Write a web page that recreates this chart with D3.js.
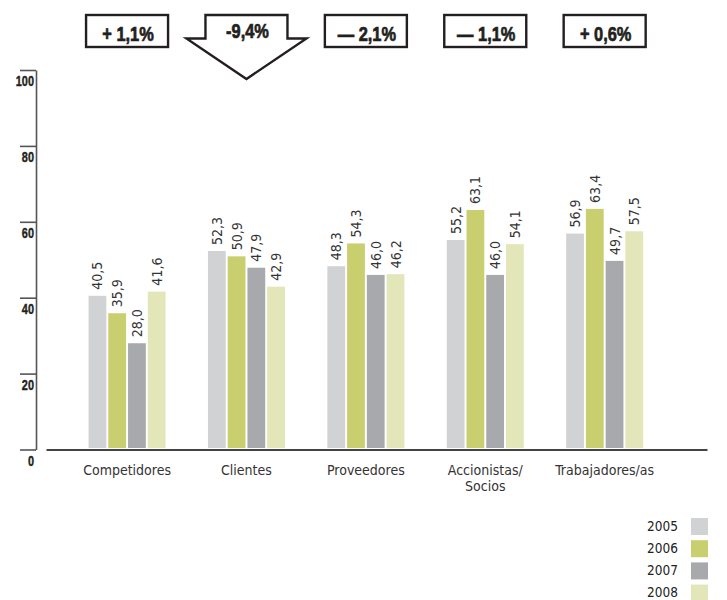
<!DOCTYPE html>
<html>
<head>
<meta charset="utf-8">
<script src="https://cdn.jsdelivr.net/npm/d3@7"></script>
<style>
  html, body { margin: 0; padding: 0; background: #fff; }
  svg { display: block; }
  .cond { font-family: 'DejaVu Sans Condensed', 'DejaVu Sans', sans-serif; font-stretch: condensed; }
  .heavy { font-family: 'Liberation Sans', Arial, sans-serif; font-weight: bold; }
</style>
</head>
<body>
<svg id="chart" width="727" height="600"></svg>
<script>
// Stakeholder ratings by year
const categories = ["Competidores", "Clientes", "Proveedores", "Accionistas/ Socios", "Trabajadores/as"];
const years = ["2005", "2006", "2007", "2008"];
const values2005 = [40.5, 52.3, 48.3, 55.2, 56.9];
const values2006 = [35.9, 50.9, 54.3, 63.1, 63.4];
const values2007 = [28.0, 47.9, 46.0, 46.0, 49.7];
const values2008 = [41.6, 42.9, 46.2, 54.1, 57.5];
const changeLabels = ["+ 1,1%", "-9,4%", "— 2,1%", "— 1,1%", "+ 0,6%"];
const changeShapes = ["box", "arrow", "box", "box", "box"];
const yTicks = [0, 20, 40, 60, 80, 100];
const yearColors = ["#d1d2d4", "#c9ce6f", "#a7a9ac", "#e2e6b8"];

const series = [values2005, values2006, values2007, values2008];
const rows = categories.map((c, i) => ({
  category: c,
  values: years.map((yr, j) => ({ year: yr, value: series[j][i] }))
}));

const fmt = d3.formatLocale({ decimal: ",", thousands: ".", grouping: [3], currency: ["", "€"] }).format(".1f");

const svg = d3.select("#chart");

const x0 = d3.scaleBand()
  .domain(categories)
  .range([46, 707])
  .paddingInner(0.355)
  .paddingOuter(0.4455)
  .align(0.4);

const x1 = d3.scaleBand()
  .domain(years)
  .range([0, x0.bandwidth()])
  .paddingInner(0.1)
  .paddingOuter(0);

const y = d3.scaleLinear().domain([0, 100]).range([449.5, 70]);

const color = d3.scaleOrdinal().domain(years).range(yearColors);

// Y axis: ticks sit left of the rule, labels hang just below each tick
const yAxis = svg.append("g")
  .attr("transform", "translate(36,0)")
  .call(d3.axisLeft(y).tickValues(yTicks).tickSize(16).tickSizeOuter(0).tickFormat(d3.format("d")));
yAxis.select(".domain").attr("stroke", "#555").attr("stroke-width", 1.6);
yAxis.selectAll(".tick line").attr("stroke", "#555").attr("stroke-width", 1.6);
yAxis.selectAll(".tick text")
  .attr("class", "heavy")
  .attr("x", 0)
  .attr("dy", null)
  .attr("transform", "translate(-2,15.5) scale(0.78,1)")
  .attr("fill", "#231f20")
  .attr("stroke", "#231f20")
  .attr("stroke-width", 0.4)
  .style("font-size", "14px")
  .attr("text-anchor", "end");

// X axis baseline with category names
const xAxis = svg.append("g")
  .attr("transform", `translate(0,${y(0)})`)
  .call(d3.axisBottom(x0).tickSize(0).tickSizeOuter(0).tickFormat(""));
xAxis.select(".domain").attr("stroke", "#444").attr("stroke-width", 2.2);

xAxis.selectAll(".tick").each(function (d) {
  const t = d3.select(this).append("text")
    .attr("class", "cond")
    .attr("text-anchor", "middle")
    .attr("fill", "#333")
    .style("font-size", "14px");
  d.split("/ ").forEach((line, i, arr) => {
    t.append("tspan")
      .attr("x", 0)
      .attr("y", 25 + i * 16)
      .text(i < arr.length - 1 ? line + "/" : line);
  });
});

// Bars
const groups = svg.append("g").selectAll("g.group")
  .data(rows)
  .join("g")
  .attr("class", "group")
  .attr("transform", d => `translate(${x0(d.category)},0)`);

groups.selectAll("rect")
  .data(d => d.values)
  .join("rect")
  .attr("x", d => x1(d.year))
  .attr("y", d => y(d.value))
  .attr("width", x1.bandwidth())
  .attr("height", d => y(0) - 1.5 - y(d.value))
  .attr("fill", d => color(d.year));

// Value labels, rotated above each bar
groups.selectAll("text.val")
  .data(d => d.values)
  .join("text")
  .attr("class", "val cond")
  .attr("transform", d => `translate(${x1(d.year) + x1.bandwidth() / 2},${y(d.value) - 6}) rotate(-90)`)
  .attr("dy", "0.36em")
  .attr("text-anchor", "start")
  .attr("fill", "#333")
  .style("font-size", "14px")
  .text(d => fmt(d.value));

// Change badges above each group
const badges = svg.append("g").selectAll("g.badge")
  .data(categories.map((c, i) => ({ category: c, label: changeLabels[i], shape: changeShapes[i] })))
  .join("g")
  .attr("class", "badge")
  .attr("transform", d => `translate(${x0(d.category) + x0.bandwidth() / 2},0)`);

badges.filter(d => d.shape === "box")
  .append("rect")
  .attr("x", -41).attr("y", 15)
  .attr("width", 82).attr("height", 32)
  .attr("fill", "#fff")
  .attr("stroke", "#231f20")
  .attr("stroke-width", 2.4);

badges.filter(d => d.shape === "arrow")
  .append("path")
  .attr("d", "M-41,15H41V38.5H60L0,79L-60,38.5H-41Z")
  .attr("fill", "#fff")
  .attr("stroke", "#231f20")
  .attr("stroke-width", 2.4)
  .attr("stroke-linejoin", "miter");

badges.append("text")
  .attr("class", "heavy")
  .attr("transform", d => `translate(1,${d.shape === "arrow" ? 38 : 40.5}) scale(0.8,1)`)
  .attr("text-anchor", "middle")
  .attr("fill", "#231f20")
  .attr("stroke", "#231f20")
  .attr("stroke-width", 0.7)
  .style("font-size", "20.5px")
  .text(d => d.label);

// Legend, bottom right
const legend = svg.append("g").selectAll("g.key")
  .data(years)
  .join("g")
  .attr("class", "key")
  .attr("transform", (d, i) => `translate(0,${518 + i * 22.2})`);

legend.append("rect")
  .attr("x", 691).attr("y", 0)
  .attr("width", 17).attr("height", 17)
  .attr("fill", d => color(d));

legend.append("text")
  .attr("class", "cond")
  .attr("x", 678).attr("y", 12.5)
  .attr("text-anchor", "end")
  .attr("fill", "#222")
  .style("font-size", "13.5px")
  .text(d => d);
</script>
</body>
</html>
